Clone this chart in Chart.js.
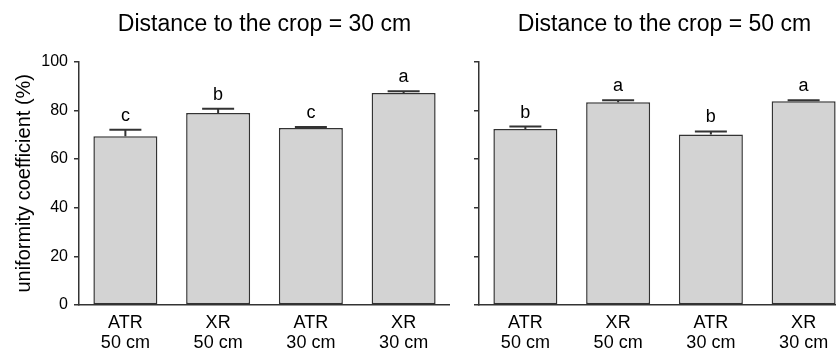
<!DOCTYPE html>
<html>
<head>
<title>Uniformity coefficient</title>
<script src="https://cdn.jsdelivr.net/npm/chart.js"></script>
<style>
  body { margin: 0; width: 836px; height: 349px; overflow: hidden; background: #fff; position: relative; }
  canvas { position: absolute; top: 0; }
</style>
</head>
<body>
<canvas id="left" width="450" height="349" style="left:0"></canvas>
<canvas id="right" width="400" height="349" style="left:450px"></canvas>
<script>
const labels = [['ATR', '50 cm'], ['XR', '50 cm'], ['ATR', '30 cm'], ['XR', '30 cm']];

// Distance to the crop = 30 cm
const mean30 = [69.3, 78.9, 72.7, 87.1];
const upper30 = [72.0, 80.6, 73.1, 87.8];
const letters30 = ['c', 'b', 'c', 'a'];

// Distance to the crop = 50 cm
const mean50 = [72.3, 83.3, 70.1, 83.7];
const upper50 = [73.3, 84.1, 71.3, 84.1];
const letters50 = ['b', 'a', 'b', 'a'];

const yTicks = [0, 20, 40, 60, 80, 100];

const ink = '#333';
const font = 'Liberation Sans, Arial, sans-serif';

const errorBars = {
  id: 'errorBars',
  afterDatasetsDraw(chart, args, opts) {
    const ctx = chart.ctx;
    const y = chart.scales.y;
    const meta = chart.getDatasetMeta(0);
    ctx.save();
    meta.data.forEach((bar, i) => {
      const top = y.getPixelForValue(opts.upper[i]);
      ctx.strokeStyle = ink;
      ctx.lineWidth = 2;
      ctx.beginPath();
      ctx.moveTo(bar.x, bar.y);
      ctx.lineTo(bar.x, top);
      ctx.moveTo(bar.x - 16, top);
      ctx.lineTo(bar.x + 16, top);
      ctx.stroke();
      ctx.fillStyle = '#000';
      ctx.font = '18px ' + font;
      ctx.textAlign = 'center';
      ctx.textBaseline = 'alphabetic';
      ctx.fillText(opts.letters[i], bar.x, top - 9);
    });
    ctx.restore();
  }
};

function makeChart(id, title, values, upper, letters, showY) {
  return new Chart(document.getElementById(id), {
    type: 'bar',
    data: {
      labels: labels,
      datasets: [{
        data: values,
        backgroundColor: '#d3d3d3',
        borderColor: ink,
        borderWidth: 1.5,
        borderSkipped: false,
        categoryPercentage: 1,
        barPercentage: 0.69
      }]
    },
    options: {
      responsive: false,
      animation: false,
      layout: { padding: 0 },
      plugins: {
        legend: { display: false },
        tooltip: { enabled: false },
        title: {
          display: true,
          text: title,
          fullSize: false,
          color: '#000',
          font: { family: font, size: 23, weight: 'normal' },
          padding: { top: 11, bottom: 23 }
        },
        errorBars: { upper: upper, letters: letters }
      },
      scales: {
        x: {
          grid: { display: true, drawOnChartArea: false, drawTicks: false },
          border: { display: true, color: ink, width: 1.5 },
          ticks: { color: '#000', padding: 8, maxRotation: 0, font: { family: font, size: 18, lineHeight: 1.12 } },
          afterFit(scale) { scale.height = 44; }
        },
        y: {
          min: 0,
          max: 100,
          afterBuildTicks(scale) { scale.ticks = yTicks.map(v => ({ value: v })); },
          grid: { drawOnChartArea: false, drawTicks: true, tickLength: 5, color: ink, lineWidth: 1.5 },
          border: { display: true, color: ink, width: 1.5 },
          ticks: { display: showY, color: '#000', padding: 6, font: { family: font, size: 16 } },
          title: {
            display: showY,
            text: 'uniformity coefficient (%)',
            color: '#000',
            font: { family: font, size: 20 },
            padding: { top: 12, bottom: 0 }
          },
          afterFit(scale) { scale.width = showY ? 79 : 29; }
        }
      }
    },
    plugins: [errorBars]
  });
}

makeChart('left', 'Distance to the crop = 30 cm', mean30, upper30, letters30, true);
makeChart('right', 'Distance to the crop = 50 cm', mean50, upper50, letters50, false);
</script>
</body>
</html>
